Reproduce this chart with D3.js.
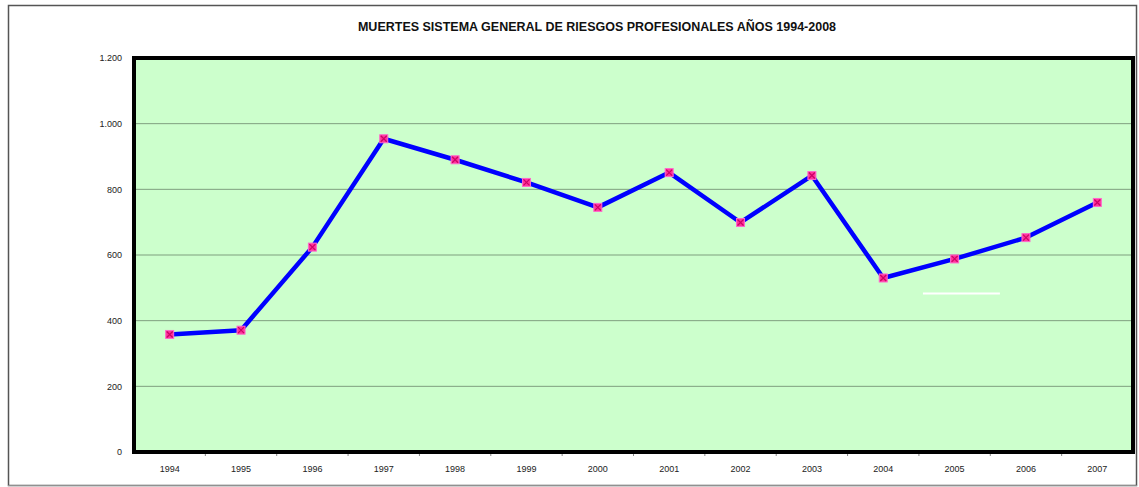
<!DOCTYPE html>
<html><head><meta charset="utf-8">
<script src="https://cdn.jsdelivr.net/npm/d3@7"></script>
<style>body{margin:0;background:#fff}svg{display:block}</style>
</head><body>
<script>
const title = "MUERTES SISTEMA GENERAL DE RIESGOS PROFESIONALES AÑOS 1994-2008";
const years = ["1994","1995","1996","1997","1998","1999","2000","2001","2002","2003","2004","2005","2006","2007"];
const deaths = [358, 371, 624, 954, 890, 821, 745, 851, 699, 842, 530, 588, 653, 760];
const yTicks = [0, 200, 400, 600, 800, 1000, 1200];
const yTickLabels = ["0", "200", "400", "600", "800", "1.000", "1.200"];

const W = 1139, H = 487;
const m = {left:134, top:58, right:1133, bottom:452};
const svg = d3.select("body").append("svg").attr("width", W).attr("height", H);

// outer frame
svg.append("rect").attr("x",8.5).attr("y",5.5).attr("width",1128).attr("height",480)
  .attr("fill","#fff").attr("stroke","#555").attr("stroke-width",1.5);
svg.append("line").attr("x1",8).attr("x2",1137).attr("y1",486).attr("y2",486).attr("stroke","#ccc");

const x = d3.scaleBand().domain(years).range([m.left, m.right]);
const y = d3.scaleLinear().domain([0,1200]).range([m.bottom, m.top]);

// plot background
svg.append("rect").attr("x",m.left).attr("y",m.top).attr("width",m.right-m.left).attr("height",m.bottom-m.top)
  .attr("fill","#ccffcc");

// gridlines
svg.append("g").selectAll("line").data(yTicks.slice(1,-1)).join("line")
  .attr("x1",m.left).attr("x2",m.right).attr("y1",d=>y(d)).attr("y2",d=>y(d))
  .attr("stroke","#7f9f7f").attr("stroke-width",1);

// stray white segment present in reference
svg.append("line").attr("x1",x("2005")+4).attr("x2",x("2005")+81)
  .attr("y1",y(483)).attr("y2",y(483)).attr("stroke","#fff").attr("stroke-width",2);

// y axis labels
const yAxis = d3.axisLeft(y).tickValues(yTicks).tickFormat((d,i)=>yTickLabels[i]).tickSize(0).tickPadding(12);
const gy = svg.append("g").attr("transform",`translate(${m.left},0)`).call(yAxis);
gy.select(".domain").remove();
gy.selectAll("text").attr("font-family","Liberation Sans, Arial, sans-serif").attr("font-size",9).attr("fill","#222");

// x axis
const xAxis = d3.axisBottom(x).tickSize(0).tickPadding(14);
const gx = svg.append("g").attr("transform",`translate(0,${m.bottom})`).call(xAxis);
gx.select(".domain").remove();
gx.selectAll("text").attr("font-family","Liberation Sans, Arial, sans-serif").attr("font-size",9).attr("fill","#222");
// x tick marks at category boundaries
svg.append("g").selectAll("line").data(years.slice(1)).join("line")
  .attr("x1",d=>x(d)).attr("x2",d=>x(d)).attr("y1",m.bottom).attr("y2",m.bottom+4)
  .attr("stroke","#888").attr("stroke-width",1);

// plot border
svg.append("rect").attr("x",m.left).attr("y",m.top).attr("width",m.right-m.left).attr("height",m.bottom-m.top)
  .attr("fill","none").attr("stroke","#000").attr("stroke-width",4);

// line
const line = d3.line().x((d,i)=>x(years[i])+x.bandwidth()/2).y(d=>y(d));
svg.append("path").datum(deaths).attr("d",line).attr("fill","none")
  .attr("stroke","#0000ff").attr("stroke-width",4.5).attr("stroke-linejoin","round");

// markers
const mk = svg.append("g").selectAll("g").data(deaths).join("g")
  .attr("transform",(d,i)=>`translate(${x(years[i])+x.bandwidth()/2},${y(d)})`);
mk.append("rect").attr("x",-4).attr("y",-4).attr("width",8).attr("height",8)
  .attr("fill","#ff3399").attr("stroke","#ff66cc").attr("stroke-width",1);
mk.append("path").attr("d","M-3,-3L3,3M-3,3L3,-3").attr("stroke","#cc0066").attr("stroke-width",1.2);

// title
svg.append("text").attr("x",597).attr("y",31).attr("text-anchor","middle")
  .attr("font-family","Liberation Sans, Arial, sans-serif").attr("font-weight","bold").attr("font-size",12.5)
  .attr("fill","#111").text(title);
</script>
</body></html>
